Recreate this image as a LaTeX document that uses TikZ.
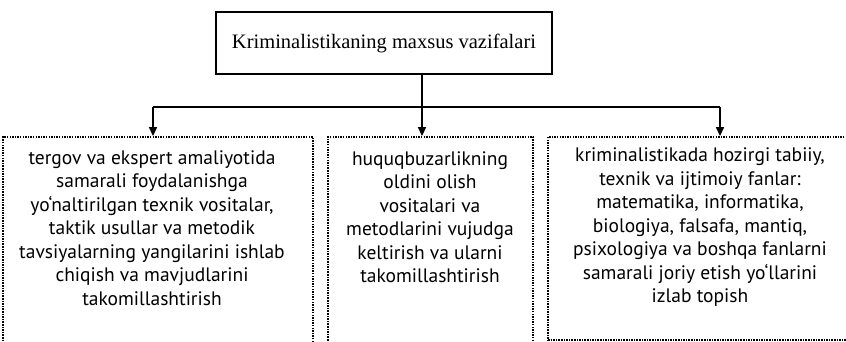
\documentclass[tikz,border=0pt]{standalone}
\usepackage{fontspec}
\setmainfont{Liberation Serif}
\newfontfamily\boxfont{PT Sans}
\usetikzlibrary{arrows.meta,positioning}

\begin{document}
\begin{tikzpicture}[x=1pt,y=-1pt,
  mainbox/.style={draw,line width=2pt,minimum width=336pt,minimum height=62pt,
    inner sep=0pt,font=\fontsize{20.5}{24}\selectfont},
  dotbox/.style={draw,line width=1.8pt,dash pattern=on 1.5pt off 1.1pt,inner sep=0pt},
  boxtext/.style={align=center,inner sep=0pt,font=\boxfont\fontsize{19.5}{23.5}\selectfont},
  link/.style={line width=1.5pt},
  arr/.style={link,-{Triangle[length=9pt,width=8pt]}}]

\useasboundingbox (0,0) rectangle (846,342);
\clip (0,0) rectangle (846,342);

% top box
\node[mainbox] (title) at (384,43) {Kriminalistikaning maxsus vazifalari};

% three dotted boxes (cut by the page edge)
\node[dotbox,minimum width=310pt,minimum height=233pt] (lbox) at (158,253.5) {};
\node[dotbox,minimum width=205pt,minimum height=233pt] (mbox) at (430.5,253.5) {};
\node[dotbox,minimum width=308pt,minimum height=203pt] (rbox) at (702,238.5) {};

\node[boxtext] (ltext) at (152,228) {tergov va ekspert amaliyotida\\
  samarali foydalanishga\\ yo‘naltirilgan texnik vositalar,\\
  taktik usullar va metodik\\ tavsiyalarning yangilarini ishlab\\
  chiqish va mavjudlarini\\ takomillashtirish};
\node[boxtext] (mtext) at (430,217) {huquqbuzarlikning\\ oldini olish\\
  vositalari va\\ metodlarini vujudga\\ keltirish va ularni\\ takomillashtirish};
\node[boxtext] (rtext) at (700,227.5) {kriminalistikada hozirgi tabiiy,\\
  texnik va ijtimoiy fanlar:\\ matematika, informatika,\\
  biologiya, falsafa, mantiq,\\ psixologiya va boshqa fanlarni\\
  samarali joriy etish yo‘llarini\\ izlab topish};

% connectors
\coordinate (hub) at (422,107);
\coordinate (jl) at (153,107);
\coordinate (jr) at (720,107);
\draw[link] (title.south -| hub) -- (hub);
\draw[link] (jl) -- (jr);
\draw[arr] (jl) -- (jl |- lbox.north);
\draw[arr] (hub) -- (hub |- mbox.north);
\draw[arr] (jr) -- (jr |- rbox.north);
\end{tikzpicture}
\end{document}
